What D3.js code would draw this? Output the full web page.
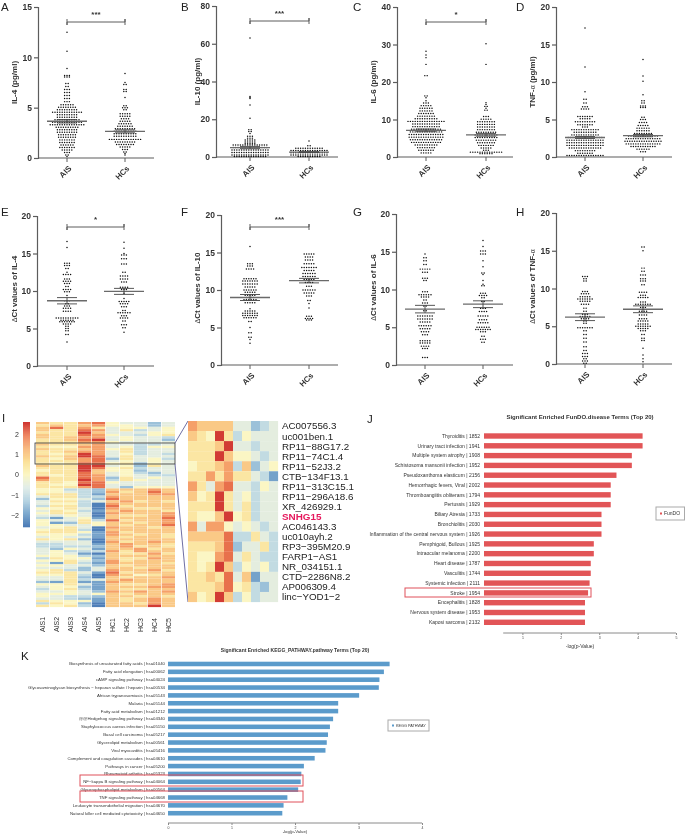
<!DOCTYPE html>
<html><head><meta charset="utf-8">
<script src="https://cdnjs.cloudflare.com/ajax/libs/d3/7.8.5/d3.min.js"></script>
<style>html,body{margin:0;padding:0;background:#fff}svg{display:block;filter:blur(.35px)}text{font-family:"Liberation Sans",Arial,sans-serif}</style>
</head><body><svg id="c" width="685" height="835"></svg>
<script>
// Each swarm is [value, number of dots at that level].
const il4Ais=[[12.5,1],[10.6,1],[8.9,1],[8.2,3],[8.05,3],[7.4,2],[7.1,2],[6.8,3],[6.5,3],[6.2,3],[5.9,3],[5.6,3],[5.3,6],[5.05,8],[4.8,9],[4.55,13],[4.3,9],[4.05,9],[3.8,11],[3.55,13],[3.3,15],[3.05,10],[2.8,9],[2.55,9],[2.3,8],[2.05,8],[1.8,7],[1.55,7],[1.3,6],[1.05,7],[.8,5],[.55,3],[.3,2],[.15,1]];
const il4Hc=[[8.4,1],[7.5,1],[7.3,2],[6.8,2],[6.6,2],[6,1],[5.2,2],[5,3],[4.8,2],[4.4,5],[4.15,5],[3.9,4],[3.65,5],[3.4,6],[3.15,7],[2.9,9],[2.65,10],[2.4,10],[2.15,10],[1.85,14],[1.6,9],[1.35,8],[1.1,5],[.85,3],[.6,2],[.45,1],[.3,1]];
const il10Ais=[[63,1],[32,1],[31.5,1],[31,1],[27.5,1],[20.5,1],[14.5,2],[13.5,2],[12.5,1],[11,3],[10,3],[9,5],[8,5],[7,5],[6.3,15],[5,15],[3.7,16],[2.4,16],[1.1,16],[.3,14]];
const il10Hc=[[8.5,1],[6,2],[4.6,12],[3.4,16],[2.2,16],[1,16],[.3,10]];
const il6Ais=[[28.2,1],[27.2,1],[26.5,1],[24.7,1],[21.7,2],[16.3,2],[15.8,1],[15,1],[14.4,3],[13.7,5],[13,6],[12.3,6],[11.6,7],[10.9,8],[10.2,10],[9.5,16],[8.8,12],[8.1,12],[7.4,13],[6.7,14],[6,15],[5.3,15],[4.6,14],[3.9,13],[3.2,10],[2.5,8],[1.8,7],[1.1,5]];
const il6Hc=[[30.2,1],[24.7,1],[14.5,1],[14,1],[13.5,2],[13,1],[12.5,2],[10.8,3],[10.1,5],[9.4,8],[8.7,8],[8,8],[7.3,8],[6.6,9],[5.9,10],[5.2,10],[4.5,9],[3.8,8],[3.1,7],[2.4,5],[1.8,3],[1.3,14],[.9,6]];
const tnfAis=[[17.2,1],[12,1],[8.7,1],[7.7,2],[7.2,2],[6.7,3],[6.4,4],[5.4,7],[5.1,5],[4.7,9],[4.3,7],[4,3],[3.65,12],[3.3,10],[2.95,12],[2.6,15],[2.25,16],[1.9,16],[1.55,16],[1.2,14],[.85,9],[.5,7],[.2,16]];
const tnfHc=[[13,1],[10.8,1],[10.1,1],[8.3,1],[7.5,2],[7.2,2],[6.8,3],[6.6,3],[5.3,2],[5,3],[4.6,4],[4.2,5],[3.85,6],[3.5,6],[3.15,8],[2.8,13],[2.45,15],[2.1,16],[1.75,15],[1.4,11],[1.05,6],[.7,3]];
const ctIl4Ais=[[16.6,1],[15.8,1],[13.7,3],[13.4,3],[13,2],[12.5,1],[12.2,4],[11.6,3],[11.3,4],[11,3],[10.6,2],[10.2,4],[9.9,3],[9.4,1],[8.7,3],[8.3,2],[8,3],[7.7,4],[7.3,4],[6.4,10],[6.1,6],[5.9,7],[5.6,4],[5.3,2],[5,2],[4.7,2],[4.2,2],[3.2,1]];
const ctIl4Hc=[[16.5,1],[15.7,1],[15,1],[14.8,3],[14.3,3],[13.6,3],[12.5,2],[12,4],[11.6,4],[11.2,3],[10.5,4],[10.2,3],[9.7,1],[9,1],[8.6,5],[8.3,4],[7.9,3],[7.4,2],[7.1,6],[6.7,3],[6.4,4],[6,2],[5.5,3],[5.1,2],[4.5,1]];
const ctIl10Ais=[[15.8,1],[13.5,3],[13.2,3],[12.8,4],[11.5,6],[11.2,7],[10.8,7],[10.4,5],[10,6],[9.7,5],[9.3,5],[9,4],[8.7,6],[8.3,5],[7.5,1],[7.2,5],[6.9,7],[6.6,7],[6.3,6],[5.8,2],[5,1],[4.3,2],[3.7,2],[3.4,1],[2.9,1]];
const ctIl10Hc=[[14.8,5],[14.4,4],[14,4],[13.5,5],[13,7],[12.6,5],[12.2,6],[11.8,6],[11.4,5],[11,4],[10.5,3],[10,6],[9.6,5],[9.2,3],[8.6,2],[8.2,1],[7.6,1],[6.5,3],[6.2,4],[6,3]];
const ctIl6Ais=[[14.7,1],[14.2,2],[13.8,2],[13.3,2],[12.7,5],[12.3,3],[11.5,3],[11.2,2],[9.7,3],[9.3,6],[9,4],[8.6,2],[8.2,3],[7.8,2],[7.2,2],[6.5,7],[6.1,7],[5.7,5],[5.2,6],[4.8,5],[4.4,4],[4,3],[3.2,5],[2.9,5],[2.5,4],[2.2,3],[1,3]];
const ctIl6Hc=[[16.5,1],[15.7,1],[15.1,3],[14.7,3],[13.8,1],[13,1],[12.2,2],[12,1],[11.2,1],[10.7,1],[10.5,2],[9.5,3],[9.2,4],[8.9,2],[8.4,2],[7.5,3],[7.1,4],[6.5,5],[6,4],[5.6,5],[5,6],[4.7,7],[4.4,3],[3.8,2],[3.4,3],[3,2]];
const ctTnfAis=[[11.6,3],[11.3,2],[11,2],[9.6,3],[9.3,4],[8.9,5],[8.6,7],[8.3,5],[7.9,4],[7.4,2],[7,2],[6.6,3],[6.3,5],[6,4],[5.7,2],[5.4,2],[4.8,7],[4.4,2],[3.9,2],[3.4,2],[2.9,2],[2.3,2],[1.8,2],[1.4,3],[1,3],[.7,2],[.4,3],[.1,2]];
const ctTnfHc=[[15.5,2],[15,1],[12.7,2],[12.3,2],[11.8,3],[11.3,3],[11,3],[10.5,2],[9.5,4],[9.1,3],[8.8,5],[8.2,3],[7.9,7],[7.5,3],[7,4],[6.5,4],[6,4],[5.7,5],[5.3,5],[5,7],[4.7,5],[4.4,3],[3.9,2],[3.4,2],[3.1,2],[2.1,1],[1.2,1],[.7,1],[.3,1]];

const groups=["AIS","HCs"];
// mean and s.e.m. per panel, AIS then HCs
const meansAB=[[3.65,.17,2.65,.15],[5,.6,2.6,.25]];
const meansCD=[[7.1,.35,5.9,.35],[2.6,.13,2.85,.15]];
const meansEF=[[8.7,.42,9.95,.4],[9,.4,11.25,.3]];
const meansGH=[[7.4,.5,8.05,.45],[6.2,.45,7.25,.45]];

const yLabels=["IL-4 (pg/ml)","IL-10 (pg/ml)","IL-6 (pg/ml)","TNF-α (pg/ml)","ΔCt values of IL-4","ΔCt values of IL-10","ΔCt values of IL-6","ΔCt values of TNF-α"];
const letters=["A","B","C","D","E","F","G","H"];
const yMax=[15,80,40,20,20,20,20,20];
const yStep=[5,20,10,5,5,5,5,5];
const sig=["***","***","*","","*","***","",""];

const heatCols=["AIS1","AIS2","AIS3","AIS4","AIS5","HC1","HC2","HC3","HC4","HC5"];
// heat values in half units of the colour bar (5 = +2.5)
const heatUp=[[2,1,1,3,4,0,-1,-1,-3,-1],[1,2,1,2,3,0,0,-1,-3,-1],[2,4,1,3,1,-1,0,0,-1,0],[2,1,1,4,3,-1,1,-2,-1,0],[1,1,1,5,2,-1,-1,-1,0,0],[2,1,1,4,3,0,-1,-2,0,1],[2,1,2,3,3,-1,0,-1,-1,-2],[1,1,2,4,5,-1,0,-1,-1,-3],[1,1,1,3,3,0,-1,-1,-1,-1],[2,1,1,2,3,-1,-1,-2,-2,-1],[1,0,0,3,3,-1,0,-2,0,0],[2,1,1,2,3,0,1,-2,-1,-1],[1,1,2,3,3,-1,1,-2,-1,-1],[1,0,1,5,3,-1,0,-2,-1,-2],[2,1,2,5,4,-1,1,-1,-1,-1],[1,0,2,3,4,-3,1,-1,0,-2],[1,1,1,3,4,-1,0,-1,0,-1],[1,0,1,4,4,0,1,-3,0,-1],[2,1,1,5,5,-1,0,-3,1,-1],[1,1,1,5,4,0,1,-2,-1,-1],[0,1,1,5,2,0,0,-3,-1,-1],[1,1,1,4,2,-1,0,-2,-3,-1],[1,0,1,4,3,-1,0,-1,-2,-2],[4,1,1,4,3,-3,1,-1,0,-1],[3,1,1,5,3,-2,1,0,-1,-1],[1,1,0,4,4,0,-1,-1,-1,-1],[1,0,0,5,4,-1,-1,-1,-1,-1],[1,1,1,3,4,-1,-3,0,0,0]];
const heatDown=[[0,0,-2,-2,-3,2,2,2,3,2],[0,0,-1,-2,-3,3,1,2,4,2],[1,1,1,-2,-4,2,2,2,3,3],[-1,1,1,-2,-2,3,2,2,2,2],[-3,0,0,-1,-3,4,2,2,2,2],[-1,1,1,-2,-1,2,3,1,2,1],[-1,0,0,-2,-5,3,2,2,2,2],[-2,1,1,-2,-5,4,1,2,2,2],[0,0,1,-1,-5,3,2,1,1,2],[-1,1,0,-2,-4,2,3,2,2,1],[0,1,1,-1,-5,3,2,2,2,3],[-1,-1,0,-1,-5,2,1,1,2,3],[-2,-4,-1,0,-4,2,2,2,2,4],[0,-1,-1,1,-2,4,1,2,2,3],[0,-4,-3,1,0,2,2,1,2,3],[0,0,-1,-1,0,2,1,2,2,4],[-1,0,1,-1,-5,3,2,2,1,2],[0,1,1,-2,-5,2,2,2,2,2],[1,1,1,0,-4,3,1,2,2,2],[0,0,0,-2,-4,3,2,1,2,1],[-1,0,-1,-1,-4,2,1,2,2,1],[1,0,1,-3,-5,2,2,2,2,2],[-1,-1,-1,-1,-5,3,1,2,3,2],[-2,-2,-1,-1,-4,2,3,2,2,1],[-2,-2,-2,-2,-3,2,3,1,2,1],[-1,-3,0,-1,-4,2,2,3,1,2],[-1,0,-2,-2,-2,3,1,3,2,2],[-1,0,-1,-4,-5,2,1,1,3,1],[0,0,0,-2,-3,2,2,2,2,2],[-2,1,0,0,-4,2,1,1,3,2],[0,0,1,-1,-3,3,1,2,2,2],[-1,-4,1,-2,-4,3,2,2,2,1],[0,0,-1,-1,-3,2,1,2,2,2],[-1,-1,-1,-3,-1,2,2,1,2,2],[0,1,-2,-3,-1,3,2,2,3,1],[1,1,1,-1,-4,4,1,2,2,2],[0,0,1,-2,-5,3,2,0,1,2],[-1,-1,1,-3,-5,2,1,2,2,3],[-1,-1,1,-2,-1,2,3,2,2,2],[-3,-4,1,-4,-4,3,2,2,2,2],[0,0,1,-1,-4,2,1,1,2,3],[-1,0,0,-3,-4,2,2,2,3,3],[-2,0,1,-2,-4,2,1,1,2,2],[-1,-1,0,-1,-3,3,2,3,2,3],[0,0,0,-1,0,2,1,2,2,2],[0,-1,-2,-2,-3,2,2,1,2,1],[-1,-1,-2,-3,-4,2,1,2,3,2],[1,0,0,0,-4,2,1,2,3,2],[-2,1,0,-3,-5,2,2,1,3,2],[1,0,1,-2,-5,2,2,2,5,2]];
const genes=["AC007556.3","uc001ben.1","RP11-88G17.2","RP11-74C1.4","RP11-52J3.2","CTB-134F13.1","RP11-313C15.1","RP11-296A18.6","XR_426929.1","SNHG15","AC046143.3","uc010ayh.2","RP3-395M20.9","FARP1-AS1","NR_034151.1","CTD-2286N8.2","AP006309.4","linc-YOD1-2"].map(s=>s.replace(/-/g,"−"));
const geneHeat=[[3,2,2,2,2,-1,-1,-3,-2,-1],[2,1,0,5,1,-2,0,-1,-1,-1],[1,1,1,2,5,-1,-1,-2,-1,-1],[1,1,1,5,2,0,0,-1,-2,-1],[0,1,1,2,3,-2,2,-3,-1,0],[1,1,3,1,3,1,1,-1,-2,-4],[3,1,-1,3,4,-1,-1,-2,0,-1],[2,0,1,5,1,-1,0,-2,-1,-1],[1,1,1,5,1,-1,1,-2,-1,-1],[1,0,0,2,5,0,1,-2,-1,-1],[3,-1,3,3,0,-1,0,-1,-2,-1],[2,2,2,2,4,-2,-2,1,-1,-2],[1,1,1,2,4,-3,-1,-1,1,-2],[1,0,0,3,4,-1,1,-1,-2,-2],[1,0,1,5,2,-2,0,-1,0,-2],[1,1,2,1,4,-1,2,-4,-1,-1],[1,1,1,2,4,0,1,-2,-3,-1],[2,0,1,5,2,-2,0,-2,-1,-1]];
const heatTicks=[-2,-1,0,1,2];

const doTerms=["Thyroiditis | 1852","Urinary tract infection | 1941","Multiple system atrophy | 1908","Schistosoma mansonii infection | 1952","Pseudoxanthoma elasticum | 2156","Hemorrhagic fevers, Viral | 2002","Thromboangiitis obliterans | 1794","Pertussis | 1929","Biliary Atresia | 1733","Bronchiolitis | 2030","Inflammation of the central nervous system | 1926","Pemphigoid, Bullous | 1925","Intraocular melanoma | 2200","Heart disease | 1787","Vasculitis | 1744","Systemic infection | 2111","Stroke | 1954","Encephalitis | 1828","Nervous system disease | 1953","Kaposi sarcoma | 2132"];
const doValues=[4.13,4.13,3.85,3.85,3.45,3.3,3.3,3.3,3.06,3.06,3.06,2.86,2.86,2.78,2.78,2.75,2.71,2.63,2.63,2.63];
const keggTerms=["Biosynthesis of unsaturated fatty acids | hsa01040","Fatty acid elongation | hsa00062","cAMP signaling pathway | hsa04024","Glycosaminoglycan biosynthesis − heparan sulfate / heparin | hsa00534","African trypanosomiasis | hsa05143","Malaria | hsa05144","Fatty acid metabolism | hsa01212","@@Hedgehog signaling pathway | hsa04340","Staphylococcus aureus infection | hsa05150","Basal cell carcinoma | hsa05217","Glycerolipid metabolism | hsa00561","Viral myocarditis | hsa05416","Complement and coagulation cascades | hsa04610","Pathways in cancer | hsa05200","Rheumatoid arthritis | hsa05323","NF−kappa B signaling pathway | hsa04064","Glycerophospholipid metabolism | hsa00564","TNF signaling pathway | hsa04668","Leukocyte transendothelial migration | hsa04670","Natural killer cell mediated cytotoxicity | hsa04650"];
const keggValues=[3.49,3.4,3.33,3.32,3.01,2.68,2.68,2.6,2.55,2.52,2.5,2.48,2.31,2.14,2.1,2.09,2.05,1.88,1.82,1.8];

const svg=d3.select("#c");
const swarmData=[[il4Ais,il4Hc],[il10Ais,il10Hc],[il6Ais,il6Hc],[tnfAis,tnfHc],[ctIl4Ais,ctIl4Hc],[ctIl10Ais,ctIl10Hc],[ctIl6Ais,ctIl6Hc],[ctTnfAis,ctTnfHc]];
const stats=[...meansAB,...meansCD,...meansEF,...meansGH];
// geometry: axis x, right end, y of 0, y of max, AIS centre, HCs centre, ylabel x, bracket y, letter x, letter y
const geo=[[38,154,158,7,67,125,14,22,1,10.5],[216,338,157,6,250,309,197,21,181,10.5],[397,513,157,7,426,486,373,22,353,10.5],[556,672,157,7,585,643,532,22,516,10.5],
[37,154,366,216,67,124,14,227,1,216],[221,338,365,215,250,309,197,227,181,216],[396,513,365,214,425,483,373,0,353,216],[556,672,364,213,585,643,532,0,516,216]];
const ink="#333",gray="#5c5c5c";

geo.forEach((g,p)=>{
  const [ax,ar,y0,yT,c1,c2,lx,by,tx,ty]=g;
  const y=d3.scaleLinear().domain([0,yMax[p]]).range([y0,yT]);
  const x=d3.scalePoint().domain(groups).range([c1,c2]);
  const G=svg.append("g");
  const a=G.append("g").attr("transform",`translate(${ax},0)`).call(d3.axisLeft(y).tickValues(d3.range(0,yMax[p]+1,yStep[p])).tickSize(4).tickPadding(2));
  a.selectAll("path,line").attr("stroke",gray).attr("stroke-width",1.2);
  a.selectAll("text").attr("font-size",8.5).attr("font-weight","bold").attr("fill",ink).attr("font-family","Liberation Sans");
  const b=G.append("g").attr("transform",`translate(0,${y0})`);
  b.append("line").attr("x1",ax).attr("x2",ar).attr("stroke",gray).attr("stroke-width",1.2);
  groups.forEach(n=>{
    b.append("line").attr("x1",x(n)).attr("x2",x(n)).attr("y2",4).attr("stroke",gray);
    b.append("text").text(n).attr("transform",`translate(${x(n)+3},9) rotate(-45)`).attr("text-anchor","end").attr("font-size",8).attr("font-weight","bold").attr("fill",ink).attr("dy",".35em");
  });
  const lab=G.append("text").attr("transform",`translate(${lx},${(y0+yT)/2+ (p<4?0:-2)}) rotate(-90)`).attr("text-anchor","middle").attr("font-size",8).attr("font-weight","bold").attr("fill",ink).attr("dy",".35em");
  yLabels[p].split(/(Δ|α)/).forEach(s=>{ if(s) lab.append("tspan").text(s).attr("font-weight",(s==="Δ"||s==="α")?"normal":"bold").attr("font-size",(s==="Δ"||s==="α")?7:8);});
  groups.forEach((n,k)=>{
    const dots=swarmData[p][k].flatMap(([v,c])=>d3.range(c).map(i=>({v,o:(i-(c-1)/2)*2.4})));
    G.append("g").selectAll("circle").data(dots).join("circle").attr("cx",d=>x(n)+d.o).attr("cy",d=>y(d.v)).attr("r",.74).attr("fill","#0c0c0c");
    const m=stats[p][k*2],s=stats[p][k*2+1],cx=x(n);
    const ln=(x1,x2,v,w,c)=>G.append("line").attr("x1",cx+x1).attr("x2",cx+x2).attr("y1",y(v)).attr("y2",y(v)).attr("stroke",c).attr("stroke-width",w);
    ln(-20,20,m,1.3,"#6a6a6a");ln(-10,10,m+s,.9,"#444");ln(-10,10,m-s,.9,"#444");
    G.append("line").attr("x1",cx).attr("x2",cx).attr("y1",y(m+s)).attr("y2",y(m-s)).attr("stroke","#444").attr("stroke-width",.9);
  });
  if(sig[p]){
    G.append("path").attr("d",d3.line()([[x("AIS"),by-3],[x("AIS"),by+3],[x("AIS"),by],[x("HCs"),by],[x("HCs"),by-3],[x("HCs"),by+3]])).attr("fill","none").attr("stroke",gray);
    G.append("text").text(sig[p]).attr("x",(x("AIS")+x("HCs"))/2).attr("y",by-5).attr("text-anchor","middle").attr("font-size",8).attr("font-weight","bold").attr("fill",ink);
  }
  G.append("text").text(letters[p]).attr("x",tx).attr("y",ty).attr("font-size",11.5).attr("fill","#222");
});

// heatmap colour
const hStops=["#4f7fb8","#7fabcf","#b0d0e0","#deebe6","#fbf6c4","#fbe29b","#f9b878","#ee7d52","#d23b34"];
const hColor=d3.scaleLinear().domain(d3.range(9).map(i=>-5+i*1.25)).range(hStops);
const heatRows=[...heatUp,...heatDown];
const hx=d3.scaleBand().domain(heatCols).range([36,175]).paddingInner(.05);
const hy=d3.scaleBand().domain(d3.range(heatRows.length)).range([422,607]);
svg.append("g").selectAll("g").data(heatRows).join("g").attr("transform",(d,i)=>`translate(0,${hy(i)})`)
 .selectAll("rect").data(d=>d).join("rect").attr("x",(d,i)=>hx(heatCols[i])).attr("width",hx.bandwidth()).attr("height",hy.bandwidth()+.1).attr("fill",d=>hColor(d));
svg.append("g").selectAll("text").data(heatCols).join("text").text(d=>d).attr("transform",d=>`translate(${hx(d)+hx.bandwidth()/2},632) rotate(-90)`).attr("dy",".35em").attr("font-size",7).attr("fill",ink);
// colour bar
const cby=d3.scaleLinear().domain([-2.55,2.6]).range([527,422]);
svg.append("g").selectAll("rect").data(d3.range(-2.55,2.6,.05)).join("rect").attr("x",23).attr("width",7).attr("y",d=>cby(d+.05)).attr("height",d=>cby(d)-cby(d+.05)+.3).attr("fill",d=>hColor(d*2));
svg.append("g").selectAll("text").data(heatTicks).join("text").text(d=>d<0?"−"+(-d):d).attr("x",19).attr("y",d=>cby(d)).attr("dy",".35em").attr("text-anchor","end").attr("font-size",7).attr("fill",ink);
svg.append("rect").attr("x",35).attr("y",443).attr("width",140).attr("height",21).attr("fill","none").attr("stroke","#333").attr("stroke-width",.8);
svg.append("line").attr("x1",175).attr("y1",443).attr("x2",188).attr("y2",421).attr("stroke","#4a4a8c").attr("stroke-width",.8);
svg.append("line").attr("x1",175).attr("y1",464).attr("x2",188).attr("y2",602).attr("stroke","#4a4a8c").attr("stroke-width",.8);
// zoomed heatmap
const zx=d3.scaleBand().domain(heatCols).range([188,278]);
const zy=d3.scaleBand().domain(genes).range([421,602]);
svg.append("g").selectAll("g").data(geneHeat).join("g").attr("transform",(d,i)=>`translate(0,${zy(genes[i])})`)
 .selectAll("rect").data(d=>d).join("rect").attr("x",(d,i)=>zx(heatCols[i])).attr("width",zx.bandwidth()+.1).attr("height",zy.bandwidth()+.1).attr("fill",d=>hColor(d));
svg.append("g").selectAll("text").data(genes).join("text").text(d=>d).attr("x",282).attr("y",d=>zy(d)+zy.bandwidth()/2).attr("dy",".35em").attr("font-size",d=>d==="SNHG15"?9.9:9.8).attr("font-weight",d=>d==="SNHG15"?"bold":"normal").attr("fill",d=>d==="SNHG15"?"#e6175c":"#222");
svg.append("text").text("I").attr("x",2).attr("y",422).attr("font-size",11.5).attr("fill","#222");

// enrichment panels
function bars(o){
  const g=svg.append("g");
  const x=d3.scaleLinear().domain([0,o.max]).range([o.x0,o.x1]);
  const y=d3.scaleBand().domain(o.terms).range([o.yTop,o.yBot]).paddingInner(o.pad);
  g.selectAll("rect.b").data(o.values).join("rect").attr("x",x(0)).attr("y",(d,i)=>y(o.terms[i])).attr("width",d=>x(d)-x(0)).attr("height",y.bandwidth()).attr("fill",o.color);
  g.selectAll("text.t").data(o.terms).join("text").text(d=>d).attr("x",o.x0-o.lg).attr("y",d=>y(d)+y.bandwidth()/2).attr("dy",".35em").attr("text-anchor","end").attr("font-size",o.fs).attr("fill","#333");
  const a=g.append("g").attr("transform",`translate(0,${o.axisY})`).call(d3.axisBottom(x).tickValues(o.ticks).tickFormat(d3.format("d")).tickSize(2).tickPadding(2));
  a.select("path").attr("stroke","#8a8a8a").attr("d",`M${x(o.axisFrom)},0H${x(o.max)}`);
  a.selectAll("line").attr("stroke","#8a8a8a");
  a.selectAll("text").attr("font-size",3.5).attr("fill","#444").attr("font-family","Liberation Sans");
  g.append("text").text("-log(p-Value)").attr("x",o.labX).attr("y",o.labY).attr("text-anchor","middle").attr("font-size",o.fs).attr("fill","#333");
  g.append("text").text(o.title).attr("x",o.titleX).attr("y",o.titleY).attr("text-anchor","middle").attr("font-size",o.tfs).attr("font-weight","bold").attr("fill","#333");
  const [lx,ly,lw,lh]=o.leg;
  g.append("rect").attr("x",lx).attr("y",ly).attr("width",lw).attr("height",lh).attr("fill","#fff").attr("stroke","#aaa");
  g.append("rect").attr("x",lx+4).attr("y",ly+lh/2-1).attr("width",2).attr("height",2).attr("fill",o.color);
  g.append("text").text(o.name).attr("x",lx+8).attr("y",ly+lh/2).attr("dy",".35em").attr("font-size",o.lfs).attr("fill","#333");
  o.boxes.forEach(([a1,a2,b1,b2])=>g.append("rect").attr("x",a1).attr("y",b1).attr("width",a2-a1).attr("height",b2-b1).attr("fill","none").attr("stroke","#e0505a").attr("stroke-width",1));
}
bars({terms:doTerms,values:doValues,max:5,x0:484,x1:676,yTop:433.3,yBot:625,pad:.45,color:"#e25557",lg:4,fs:5,lfs:5,axisY:633,ticks:[1,2,3,4,5],axisFrom:.5,labX:580,labY:648,title:"Significant Enriched FunDO.disease Terms (Top 20)",titleX:580,titleY:419,tfs:6,name:"FunDO",leg:[656,507,28.5,13],boxes:[[405,591,588,597]]});
bars({terms:keggTerms,values:keggValues,max:4,x0:168,x1:422,yTop:661.7,yBot:815.5,pad:.42,color:"#5b9bcb",lg:3,fs:4.3,lfs:3.8,axisY:823,ticks:[0,1,2,3,4],axisFrom:0,labX:295,labY:833,title:"Significant Enriched KEGG_PATHWAY.pathway Terms (Top 20)",titleX:295,titleY:652,tfs:5,name:"KEGG PATHWAY",leg:[388,720,41,11],boxes:[[80,303,775,786],[80,303,791,802]]});
svg.append("text").text("J").attr("x",367).attr("y",423).attr("font-size",11.5).attr("fill","#222");
svg.append("text").text("K").attr("x",21).attr("y",660).attr("font-size",11.5).attr("fill","#222");
</script></body></html>
